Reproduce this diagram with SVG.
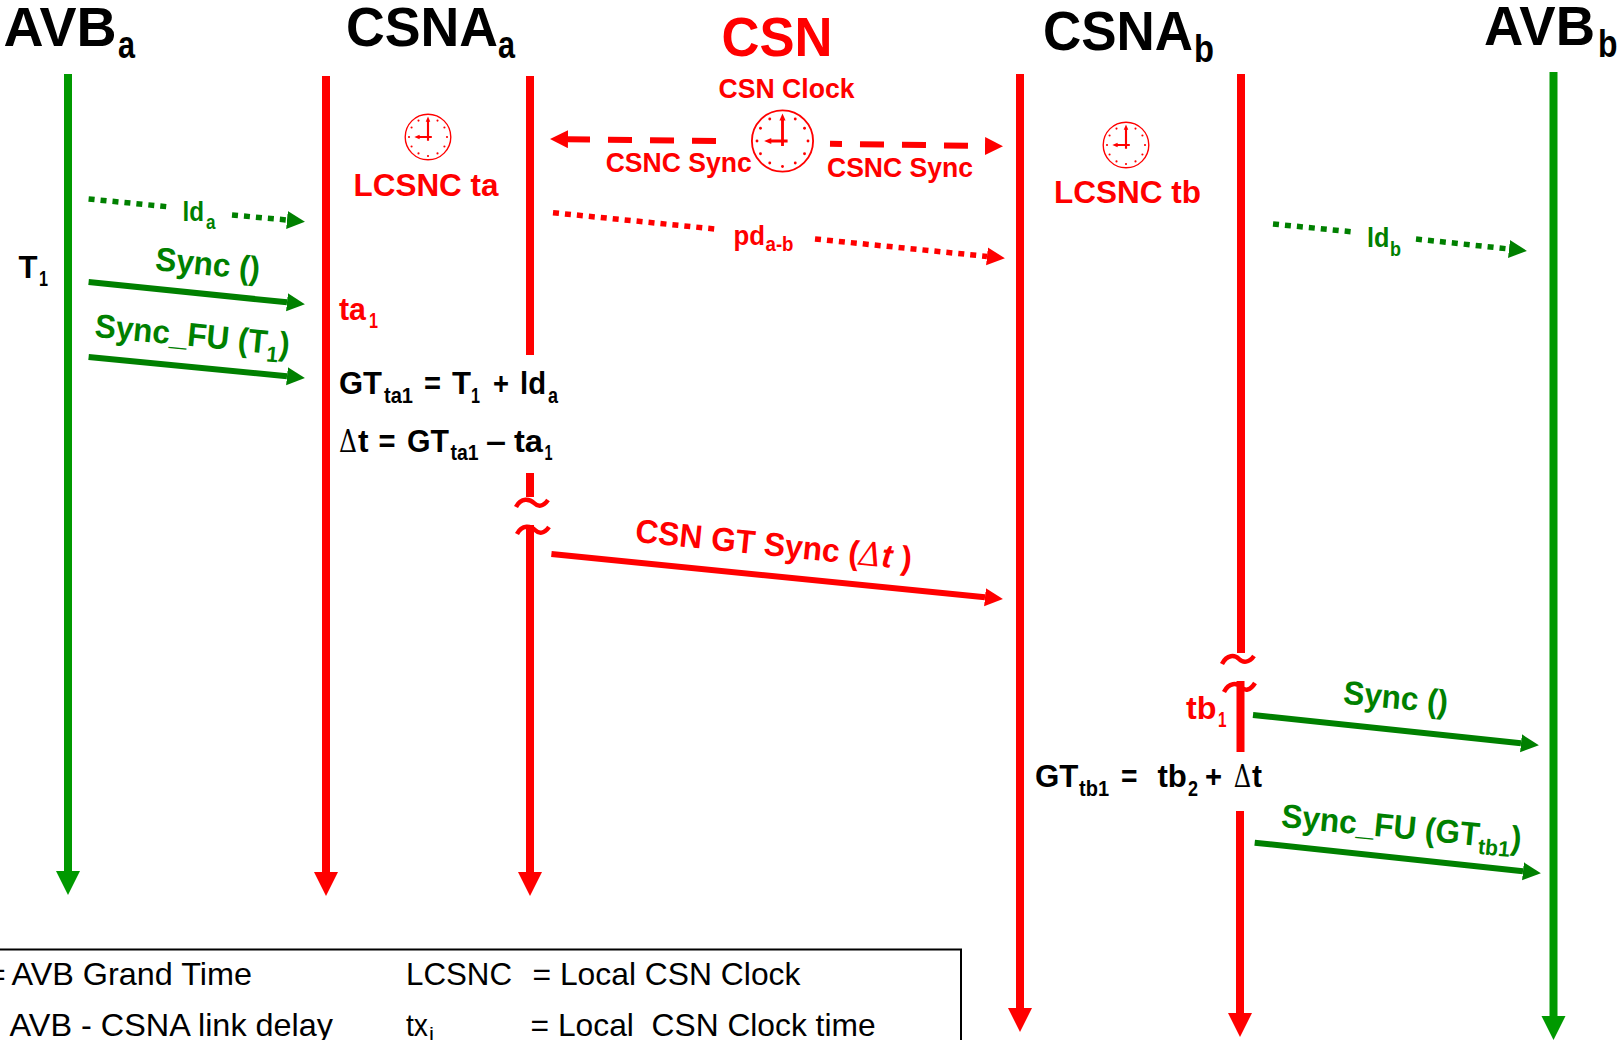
<svg xmlns="http://www.w3.org/2000/svg" width="1618" height="1040" viewBox="0 0 1618 1040">
<style>
text{font-family:"Liberation Sans",Arial,sans-serif;font-weight:bold;white-space:pre}
.k{fill:#000}.r{fill:#f00}.g{fill:#008000}
.h{font-size:55px}.hs{font-size:39px}
.m{font-size:28px}.ms{font-size:20px}
.l{font-size:32px}.s{font-size:22px}
.leg{font-weight:normal;font-size:32px;fill:#000}
.sym{font-family:"DejaVu Serif","Liberation Serif",serif;font-weight:normal}
.life{fill:none;stroke-width:8}
.msg{fill:none;stroke-width:6}
.dot{fill:none;stroke-width:5.5;stroke-dasharray:6 6}
.dash{fill:none;stroke-width:6}
.tilde{fill:none;stroke:#f00;stroke-width:4.5}
</style>
<defs>
<marker id="lr" markerUnits="userSpaceOnUse" markerWidth="26" markerHeight="26" refX="0" refY="12" orient="auto"><path d="M0 0L24 12L0 24z" fill="#f00"/></marker>
<marker id="lg" markerUnits="userSpaceOnUse" markerWidth="26" markerHeight="26" refX="0" refY="12" orient="auto"><path d="M0 0L24 12L0 24z" fill="#090"/></marker>
<marker id="mr" markerUnits="userSpaceOnUse" markerWidth="20" markerHeight="20" refX="0" refY="9" orient="auto"><path d="M0 0L18 9L0 18z" fill="#f00"/></marker>
<marker id="mg" markerUnits="userSpaceOnUse" markerWidth="20" markerHeight="20" refX="0" refY="9" orient="auto"><path d="M0 0L18 9L0 18z" fill="#008000"/></marker>
<g id="clock">
<circle r="30" fill="none" stroke="#f00" stroke-width="1.8"/>
<g fill="#f00">
<circle cx="12.5" cy="-21.6" r="1.4"/><circle cx="21.6" cy="-12.5" r="1.4"/><circle cx="25" cy="0" r="1.4"/><circle cx="21.6" cy="12.5" r="1.4"/><circle cx="12.5" cy="21.6" r="1.4"/><circle cx="0" cy="25" r="1.4"/><circle cx="-12.5" cy="21.6" r="1.4"/><circle cx="-21.6" cy="12.5" r="1.4"/><circle cx="-25" cy="0" r="1.4"/><circle cx="-21.6" cy="-12.5" r="1.4"/><circle cx="-12.5" cy="-21.6" r="1.4"/>
<path d="M0 -27L3 -20H-3zM-18 0L-11 -3V3z"/>
</g>
<path d="M0 -22V5M-13 0H5" fill="none" stroke="#f00" stroke-width="2.8"/>
</g>
</defs>
<rect width="1618" height="1040" fill="#fff"/>

<g id="node-avb-a">
<text class="h k" x="3.500" y="45.500" textLength="113" lengthAdjust="spacingAndGlyphs">AVB</text>
<text class="hs k" x="118" y="58" textLength="17" lengthAdjust="spacingAndGlyphs">a</text>
<path class="life" stroke="#090" d="M68 74V871" marker-end="url(#lg)"/>
<text class="l k" x="18.500" y="277.500" textLength="19" lengthAdjust="spacingAndGlyphs">T</text>
<text class="s k" x="39" y="286" textLength="9" lengthAdjust="spacingAndGlyphs">1</text>
</g>

<g id="node-csna-a">
<text class="h k" x="346" y="45.500" textLength="152" lengthAdjust="spacingAndGlyphs">CSNA</text>
<text class="hs k" x="498" y="58" textLength="17" lengthAdjust="spacingAndGlyphs">a</text>
<path class="life" stroke="#f00" d="M326 76V872" marker-end="url(#lr)"/>
<path class="life" stroke="#f00" d="M530 76V355M530 473V497"/>
<path class="tilde" d="M516 507C521 497 530 499 534 503C538 507 543 507 548 500"/>
<path class="tilde" d="M517 534C522 524 531 526 535 530C539 534 544 534 549 527"/>
<path class="life" stroke="#f00" d="M530 525V872" marker-end="url(#lr)"/>
<use href="#clock" transform="translate(428 137) scale(.76)"/>
<text class="r" style="font-size:32px" x="353.500" y="196" textLength="145" lengthAdjust="spacingAndGlyphs">LCSNC ta</text>
<text class="l r" x="339" y="320" textLength="27" lengthAdjust="spacingAndGlyphs">ta</text>
<text class="s r" x="369" y="328" textLength="9" lengthAdjust="spacingAndGlyphs">1</text>
<text class="l k" x="339" y="394" textLength="43" lengthAdjust="spacingAndGlyphs">GT</text>
<text class="s k" x="384" y="403" textLength="29" lengthAdjust="spacingAndGlyphs">ta1</text>
<text class="l k" x="424" y="394" textLength="17" lengthAdjust="spacingAndGlyphs">=</text>
<text class="l k" x="452" y="394" textLength="19" lengthAdjust="spacingAndGlyphs">T</text>
<text class="s k" x="471" y="403" textLength="9" lengthAdjust="spacingAndGlyphs">1</text>
<text class="l k" x="493" y="394" textLength="16" lengthAdjust="spacingAndGlyphs">+</text>
<text class="l k" x="520" y="394" textLength="26" lengthAdjust="spacingAndGlyphs">ld</text>
<text class="s k" x="548" y="403" textLength="10" lengthAdjust="spacingAndGlyphs">a</text>
<text class="l k sym" x="339" y="451.700" textLength="18" lengthAdjust="spacingAndGlyphs">Δ</text>
<text class="l k" x="358" y="451.700" textLength="10.500" lengthAdjust="spacingAndGlyphs">t</text>
<text class="l k" x="378.500" y="451.700" textLength="17" lengthAdjust="spacingAndGlyphs">=</text>
<text class="l k" x="407" y="451.700" textLength="42" lengthAdjust="spacingAndGlyphs">GT</text>
<text class="s k" x="450.500" y="460" textLength="28" lengthAdjust="spacingAndGlyphs">ta1</text>
<text class="l k" x="486" y="451.700" textLength="20" lengthAdjust="spacingAndGlyphs">–</text>
<text class="l k" x="514" y="451.700" textLength="29" lengthAdjust="spacingAndGlyphs">ta</text>
<text class="s k" x="544.500" y="460" textLength="8" lengthAdjust="spacingAndGlyphs">1</text>
</g>

<g id="node-csn">
<text class="r" style="font-size:56px" x="721.500" y="55.500" textLength="111" lengthAdjust="spacingAndGlyphs">CSN</text>
<text class="m r" x="718.500" y="98" textLength="136" lengthAdjust="spacingAndGlyphs">CSN Clock</text>
<use href="#clock" transform="translate(782.500 141) scale(1.02)"/>
<text class="m r" x="605.700" y="172" textLength="146" lengthAdjust="spacingAndGlyphs">CSNC Sync</text>
<text class="m r" x="827" y="177" textLength="146" lengthAdjust="spacingAndGlyphs">CSNC Sync</text>
<text class="m r" x="733.500" y="245" textLength="31.500" lengthAdjust="spacingAndGlyphs">pd</text>
<text class="ms r" x="765.500" y="251" textLength="28" lengthAdjust="spacingAndGlyphs">a-b</text>
</g>

<g id="node-csna-b">
<text class="h k" x="1043" y="49.500" textLength="150" lengthAdjust="spacingAndGlyphs">CSNA</text>
<text class="hs k" x="1194" y="62" textLength="20" lengthAdjust="spacingAndGlyphs">b</text>
<path class="life" stroke="#f00" d="M1020 74V1008" marker-end="url(#lr)"/>
<path class="life" stroke="#f00" d="M1241 74V653M1240.500 681V752M1240 811V1013" marker-end="url(#lr)"/>
<path class="tilde" d="M1222 664C1227 654 1235 655 1239 659C1243 663 1249 663 1254 656"/>
<path class="tilde" d="M1224 692C1229 682 1237 683 1241 687C1245 691 1250 691 1255 683"/>
<use href="#clock" transform="translate(1126 145) scale(.76)"/>
<text class="r" style="font-size:32px" x="1054" y="203" textLength="147" lengthAdjust="spacingAndGlyphs">LCSNC tb</text>
<text class="l r" x="1186" y="719.300" textLength="30.500" lengthAdjust="spacingAndGlyphs">tb</text>
<text class="s r" x="1218" y="727" textLength="8.500" lengthAdjust="spacingAndGlyphs">1</text>
<text class="l k" x="1035" y="787" textLength="43.400" lengthAdjust="spacingAndGlyphs">GT</text>
<text class="s k" x="1079" y="796" textLength="30" lengthAdjust="spacingAndGlyphs">tb1</text>
<text class="l k" x="1121" y="787" textLength="16.500" lengthAdjust="spacingAndGlyphs">=</text>
<text class="l k" x="1157.400" y="787" textLength="29.400" lengthAdjust="spacingAndGlyphs">tb</text>
<text class="s k" x="1188" y="796" textLength="10" lengthAdjust="spacingAndGlyphs">2</text>
<text class="l k" x="1205" y="787" textLength="17" lengthAdjust="spacingAndGlyphs">+</text>
<text class="l k sym" x="1233.700" y="787" textLength="17.500" lengthAdjust="spacingAndGlyphs">Δ</text>
<text class="l k" x="1252" y="787" textLength="10" lengthAdjust="spacingAndGlyphs">t</text>
</g>

<g id="node-avb-b">
<text class="h k" x="1484" y="44.500" textLength="111" lengthAdjust="spacingAndGlyphs">AVB</text>
<text class="hs k" x="1598" y="57" textLength="19.500" lengthAdjust="spacingAndGlyphs">b</text>
<path class="life" stroke="#090" d="M1553.500 72V1016" marker-end="url(#lg)"/>
</g>

<g id="connectors">
<path class="dot" stroke="#008000" d="M88.600 199L167 206.700"/>
<path class="dot" stroke="#008000" d="M232 215L287 220" marker-end="url(#mg)"/>
<text class="m g" x="182.500" y="221" textLength="21.500" lengthAdjust="spacingAndGlyphs">ld</text>
<text class="ms g" x="206" y="228.500" textLength="9.500" lengthAdjust="spacingAndGlyphs">a</text>
<path class="msg" stroke="#008000" d="M88.600 282L287 302.300" marker-end="url(#mg)"/>
<text class="g" style="font-size:33px" transform="translate(154.500 270) rotate(5.500) scale(.955 1)">Sync ()</text>
<path class="msg" stroke="#008000" d="M88.600 357L287 376.300" marker-end="url(#mg)"/>
<text class="g" style="font-size:33px" transform="translate(94 336.700) rotate(5.500) scale(.955 1)">Sync_FU (T<tspan font-size="22" dy="8">1</tspan><tspan dy="-8">)</tspan></text>
<path class="dash" stroke="#f00" stroke-dasharray="24 18 24 18 24 18 24" d="M716 141L568 139.200" marker-end="url(#mr)"/>
<path class="dash" stroke="#f00" stroke-dasharray="12 18 24 18 24 18 24 99" d="M830 143.700L985 146" marker-end="url(#mr)"/>
<path class="dot" stroke="#f00" d="M553 212.700L715 229"/>
<path class="dot" stroke="#f00" d="M815 239L987 256.400" marker-end="url(#mr)"/>
<path class="dot" stroke="#008000" d="M1273 224L1351 231.700"/>
<path class="dot" stroke="#008000" d="M1416 239L1509 249" marker-end="url(#mg)"/>
<text class="m g" x="1367" y="247" textLength="22.400" lengthAdjust="spacingAndGlyphs">ld</text>
<text class="ms g" x="1390" y="255.500" textLength="11" lengthAdjust="spacingAndGlyphs">b</text>
<path class="msg" stroke="#f00" d="M551.400 554L985 597.300" marker-end="url(#mr)"/>
<text class="r" style="font-size:33px" transform="translate(634.500 541.700) rotate(5.800) scale(.965 1)">CSN GT Sync (<tspan class="sym" font-style="italic">Δ</tspan><tspan font-style="italic">t</tspan> )</text>
<path class="msg" stroke="#008000" d="M1253 715L1521 743.300" marker-end="url(#mg)"/>
<text class="g" style="font-size:33px" transform="translate(1342.500 703.500) rotate(5.500) scale(.955 1)">Sync ()</text>
<path class="msg" stroke="#008000" d="M1254.700 842.700L1523 871.300" marker-end="url(#mg)"/>
<text class="g" style="font-size:33px" transform="translate(1280.500 826.700) rotate(5.500) scale(.96 1)">Sync_FU (GT<tspan font-size="22" dy="8">tb1</tspan><tspan dy="-8">)</tspan></text>
</g>

<g id="legend">
<rect x="-10" y="949.500" width="971" height="120" fill="none" stroke="#000" stroke-width="2"/>
<text class="leg" x="-13" y="985">=</text>
<text class="leg" x="11.500" y="985" textLength="240.500" lengthAdjust="spacingAndGlyphs">AVB Grand Time</text>
<text class="leg" x="9.600" y="1035.500" textLength="323.400" lengthAdjust="spacingAndGlyphs">AVB - CSNA link delay</text>
<text class="leg" x="406" y="985" textLength="106" lengthAdjust="spacingAndGlyphs">LCSNC</text>
<text class="leg" x="532.500" y="985" textLength="267.900" lengthAdjust="spacingAndGlyphs">= Local CSN Clock</text>
<text class="leg" x="406" y="1035.500" textLength="22" lengthAdjust="spacingAndGlyphs">tx</text>
<text class="leg" style="font-size:18px" x="429" y="1040" textLength="5" lengthAdjust="spacingAndGlyphs">i</text>
<text class="leg" x="530.600" y="1035.500" textLength="345" lengthAdjust="spacingAndGlyphs">= Local  CSN Clock time</text>
</g>
</svg>
